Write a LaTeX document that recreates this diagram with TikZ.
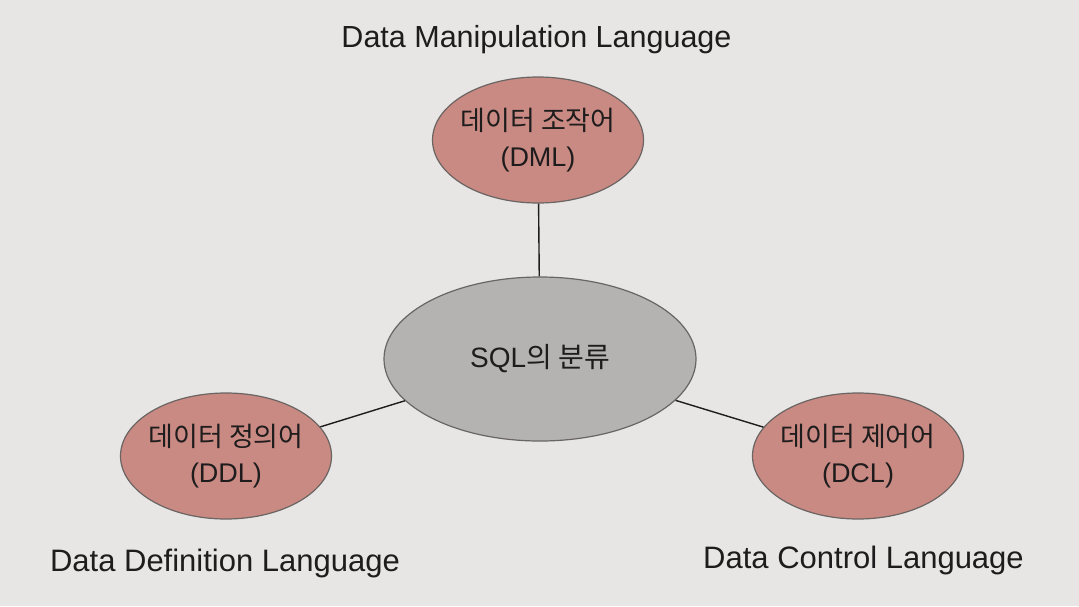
\documentclass[tikz,border=0pt]{standalone}
\usepackage{fontspec}
\setmainfont{Liberation Sans}
\newfontfamily\kr{Noto Sans CJK KR}
\usetikzlibrary{shapes.geometric}
\definecolor{bg}{HTML}{E7E6E4}
\definecolor{salmon}{HTML}{C98A83}
\definecolor{grayfill}{HTML}{B4B3B1}
\definecolor{edge}{HTML}{6A6462}
\definecolor{ink}{HTML}{1E1C1C}
\tikzset{
  sub/.style={ellipse, draw=edge, line width=1.2pt, fill=salmon, text=ink,
    minimum width=211pt, minimum height=126pt, inner xsep=-15pt, inner ysep=0pt, align=center,
    font=\fontsize{27}{36}\selectfont},
  hub/.style={ellipse, draw=edge, line width=1.2pt, fill=grayfill, text=ink,
    minimum width=312pt, minimum height=164pt, inner sep=0pt,
    font=\fontsize{28}{34}\selectfont},
  caption/.style={text=ink, font=\fontsize{30.5}{36}\selectfont, inner sep=0pt, anchor=base},
  link/.style={draw=ink, line width=1.4pt}
}
\begin{document}
\begin{tikzpicture}[x=1pt,y=-1pt]
\fill[bg] (0,0) rectangle (1079,606);
\useasboundingbox (0,0) rectangle (1079,606);
\node[hub] (sql) at (540,359) {SQL{\kr 의 분류}};
\node[sub] (dml) at (538,140) {{\kr 데이터 조작어}\\(DML)};
\node[sub] (ddl) at (226,456) {{\kr 데이터 정의어}\\(DDL)};
\node[sub] (dcl) at (858,456) {{\kr 데이터 제어어}\\(DCL)};
\draw[link] (dml) -- (sql);
\draw[link] (ddl) -- (sql);
\draw[link] (dcl) -- (sql);
\node[caption] (tdml) at (536.5,47) {Data Manipulation Language};
\node[caption, font=\fontsize{31}{36}\selectfont] (tddl) at (225,571.5) {Data Definition Language};
\node[caption, font=\fontsize{31}{36}\selectfont] (tdcl) at (863.5,568) {Data Control Language};
\end{tikzpicture}
\end{document}
